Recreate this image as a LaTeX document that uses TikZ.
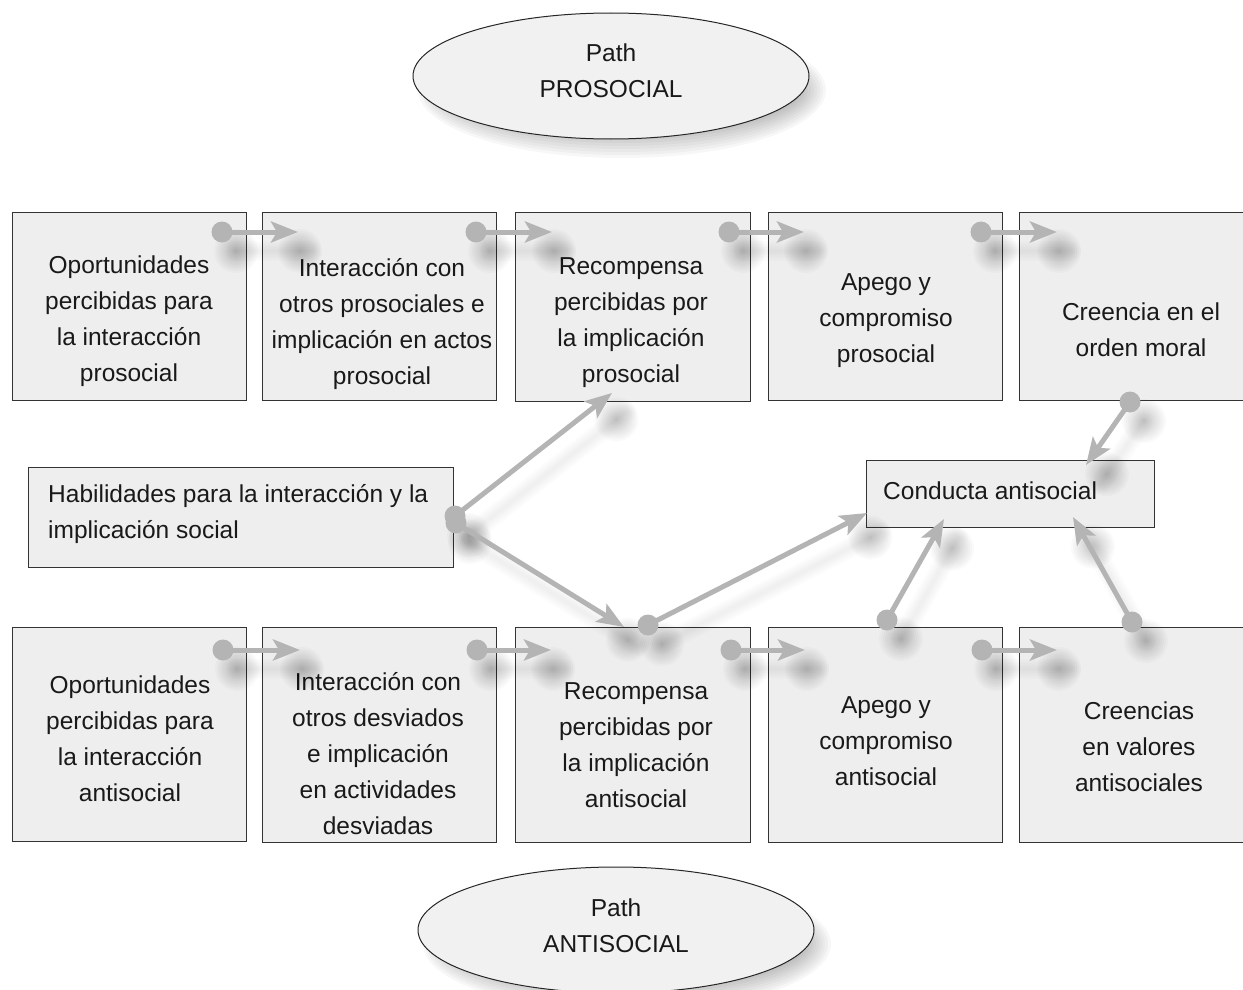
\documentclass[tikz,border=0pt]{standalone}
\usepackage{fontspec}
\setmainfont{Liberation Sans}
\usetikzlibrary{arrows.meta,shapes.geometric,calc}
\definecolor{boxfill}{HTML}{EEEEEE}
\definecolor{ellfill}{HTML}{F1F1F1}
\definecolor{connc}{HTML}{B4B4B4}
\definecolor{edgec}{HTML}{333333}
\newcommand\arrsh[2]{%
  \foreach \w in {4,8,12,16,20}{%
    \draw[line width=\w pt, black, draw opacity=0.012, line cap=round]
      ([shift={(14,19)}]#1) -- ([shift={(14,19)}]#2);}
  \foreach \r in {2,4,...,22}{%
    \fill[black, opacity=0.018] ([shift={(14,19)}]#1) circle (\r pt);
    \fill[black, opacity=0.018] ($([shift={(14,19)}]#2)!12pt!([shift={(14,19)}]#1)$) circle (\r pt);}%
}
\begin{document}
\begin{tikzpicture}[x=1pt,y=-1pt,
  box/.style={draw=edgec, line width=1pt, fill=boxfill, rectangle, inner sep=0pt, anchor=north west},
  lbl/.style={align=center, font=\fontsize{24.5}{36}\selectfont, text=black!90, inner sep=0pt},
  lbll/.style={align=left, font=\fontsize{24.5}{36}\selectfont, text=black!90, inner sep=0pt, anchor=west},
  ell/.style={ellipse, draw=black!85, line width=1pt, fill=ellfill, minimum width=396pt, minimum height=126pt, inner sep=0pt},
  conn/.style={draw=connc, line width=5pt, -{Stealth[length=27pt,width=21pt,inset=6pt]}},
  dotc/.style={fill=connc},
  ]
\useasboundingbox (0,0) rectangle (1243,990);
% ellipse shadows
\foreach \k in {0,...,9}{%
  \fill[black, opacity=0.03] (622,90) ellipse ({204-3*\k} and {68-3*\k});
  \fill[black, opacity=0.03] (627,944) ellipse ({204-3*\k} and {68-3*\k});}
\node[ell] (pathpro) at (611,76) {};
\node[ell] (pathanti) at (616,930) {};
\node[lbl] (tpro) at (611,71) {Path\\PROSOCIAL};
\node[lbl] (tanti) at (616,926) {Path\\ANTISOCIAL};
% top boxes
\node[box, minimum width=234pt, minimum height=188pt] (p1) at (12,212) {};
\node[box, minimum width=234pt, minimum height=188pt] (p2) at (262,212) {};
\node[box, minimum width=235pt, minimum height=189pt] (p3) at (515,212) {};
\node[box, minimum width=234pt, minimum height=188pt] (p4) at (768,212) {};
\node[box, minimum width=240pt, minimum height=188pt] (p5) at (1019,212) {};
% bottom boxes
\node[box, minimum width=234pt, minimum height=214pt] (a1) at (12,627) {};
\node[box, minimum width=234pt, minimum height=215pt] (a2) at (262,627) {};
\node[box, minimum width=235pt, minimum height=215pt] (a3) at (515,627) {};
\node[box, minimum width=234pt, minimum height=215pt] (a4) at (768,627) {};
\node[box, minimum width=240pt, minimum height=215pt] (a5) at (1019,627) {};
% middle boxes
\node[box, minimum width=425pt, minimum height=100pt] (hab) at (28,467) {};
\node[box, minimum width=288pt, minimum height=67pt] (cond) at (866,460) {};
% labels
\node[lbl] (tp1) at (129,321) {Oportunidades\\percibidas para\\la interacción\\prosocial};
\node[lbl] (tp2) at (382,324) {Interacción con\\otros prosociales e\\implicación en actos\\prosocial};
\node[lbl] (tp3) at (631,323) {Recompensa\\percibidas por\\la implicación\\prosocial};
\node[lbl] (tp4) at (886,321) {Apego y\\compromiso\\prosocial};
\node[lbl] (tp5) at (1141,330) {Creencia en el\\orden moral};
\node[lbl] (ta1) at (130,739) {Oportunidades\\percibidas para\\la interacción\\antisocial};
\node[lbl] (ta2) at (378,754) {Interacción con\\otros desviados\\e implicación\\en actividades\\desviadas};
\node[lbl] (ta3) at (636,745) {Recompensa\\percibidas por\\la implicación\\antisocial};
\node[lbl] (ta4) at (886,741) {Apego y\\compromiso\\antisocial};
\node[lbl] (ta5) at (1139,747) {Creencias\\en valores\\antisociales};
\node[lbll] (thab) at (48,514) {Habilidades para la interacción y la\\implicación social};
\node[lbll] (tcond) at (883,491) {Conducta antisocial};
% connector end points
\coordinate (s1) at (222,232); \coordinate (e1) at (298,232);
\coordinate (s2) at (476,232); \coordinate (e2) at (552,232);
\coordinate (s3) at (729,232); \coordinate (e3) at (804,232);
\coordinate (s4) at (981,232); \coordinate (e4) at (1057,232);
\coordinate (b1) at (223,650); \coordinate (f1) at (300,650);
\coordinate (b2) at (477,650); \coordinate (f2) at (551,650);
\coordinate (b3) at (731,650); \coordinate (f3) at (805,650);
\coordinate (b4) at (982,650); \coordinate (f4) at (1057,650);
\coordinate (h1) at (455,516); \coordinate (k1) at (612,393);
\coordinate (h2) at (456,523); \coordinate (k2) at (624,627);
\coordinate (r3) at (648,625); \coordinate (k3) at (867,513);
\coordinate (m5) at (1130,402); \coordinate (k4) at (1086,465);
\coordinate (r4) at (887,620); \coordinate (k5) at (944,519);
\coordinate (r5) at (1132,622); \coordinate (k6) at (1073,517);
% shadows
\foreach \a/\b in {s1/e1,s2/e2,s3/e3,s4/e4,b1/f1,b2/f2,b3/f3,b4/f4,h1/k1,h2/k2,r3/k3,m5/k4,r4/k5,r5/k6}{%
  \arrsh{\a}{\b}}
% connectors
\foreach \a/\b in {s1/e1,s2/e2,s3/e3,s4/e4,b1/f1,b2/f2,b3/f3,b4/f4,h1/k1,h2/k2,r3/k3,m5/k4,r4/k5,r5/k6}{%
  \draw[conn] (\a) -- (\b);
  \fill[dotc] (\a) circle (10.5pt);}
\end{tikzpicture}
\end{document}
